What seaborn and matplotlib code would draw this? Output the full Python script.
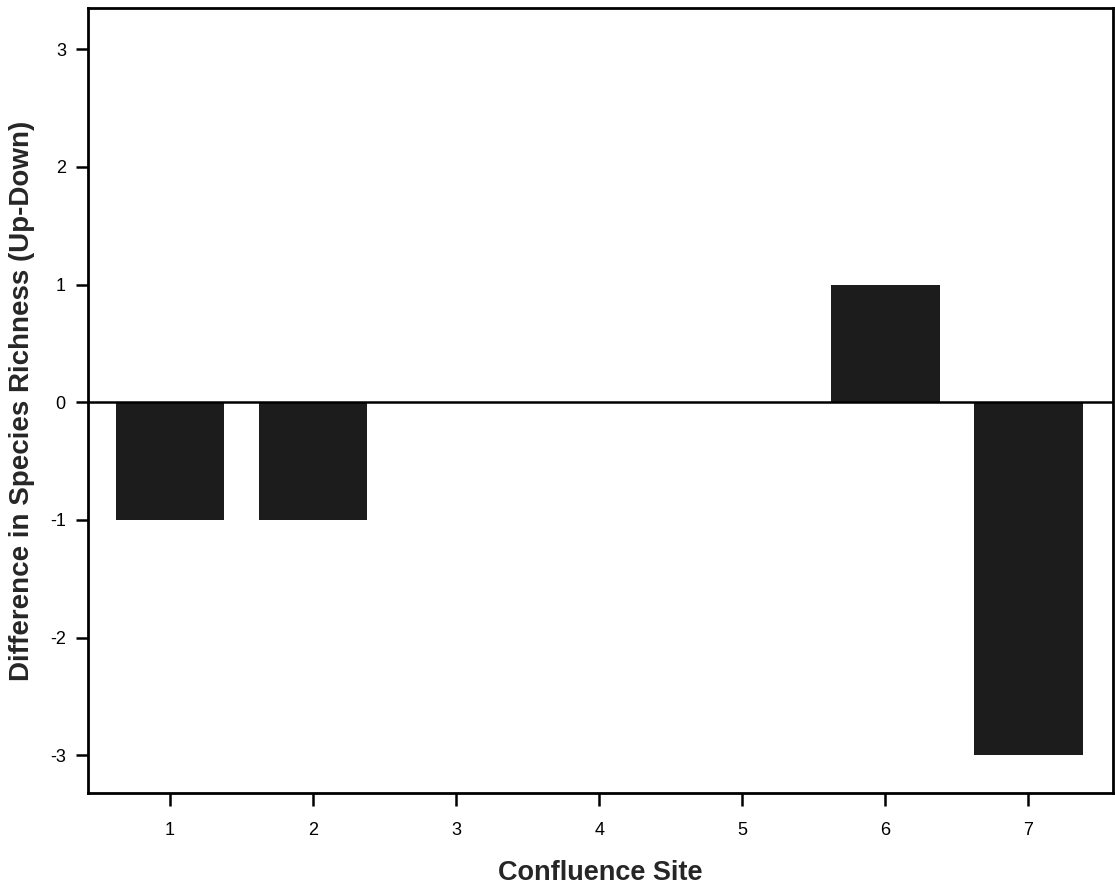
import matplotlib
matplotlib.use("Agg")
import matplotlib.pyplot as plt
import seaborn as sns
import pandas as pd

sites = ["1", "2", "3", "4", "5", "6", "7"]
diff = [-1, -1, 0, 0, 0, 1, -3]
yticks = [-3, -2, -1, 0, 1, 2, 3]

sns.set_style("white")
plt.rcParams['font.family'] = ['Liberation Sans', 'DejaVu Sans']

df = pd.DataFrame({"site": sites, "diff": diff})

fig = plt.figure(figsize=(11.15, 8.85), dpi=100)
ax = fig.add_axes([0.079, 0.104, 0.919, 0.887])
sns.barplot(data=df, x="site", y="diff", order=sites, color="#1c1c1c",
            saturation=1, width=0.76, ax=ax, edgecolor="none")
ax.axhline(0, color="black", lw=1.8, zorder=3)
ax.set_xlim(-0.573, 6.59)
ax.set_ylim(-3.32, 3.35)
ax.set_yticks(yticks)
ax.set_yticklabels([str(v) for v in yticks])
for s in ax.spines.values():
    s.set_visible(True)
    s.set_color("black")
    s.set_linewidth(2)
ax.tick_params(axis="both", direction="out", length=9, width=1.8,
               labelsize=13, colors="black", left=True, bottom=True, pad=7)
ax.tick_params(axis="x", pad=12)
ax.set_xlabel("Confluence Site", fontsize=19.5, fontweight="bold", labelpad=15)
ax.set_ylabel("Difference in Species Richness (Up-Down)", fontsize=20,
              fontweight="bold", labelpad=11)
fig.savefig("out.png", dpi=100)
